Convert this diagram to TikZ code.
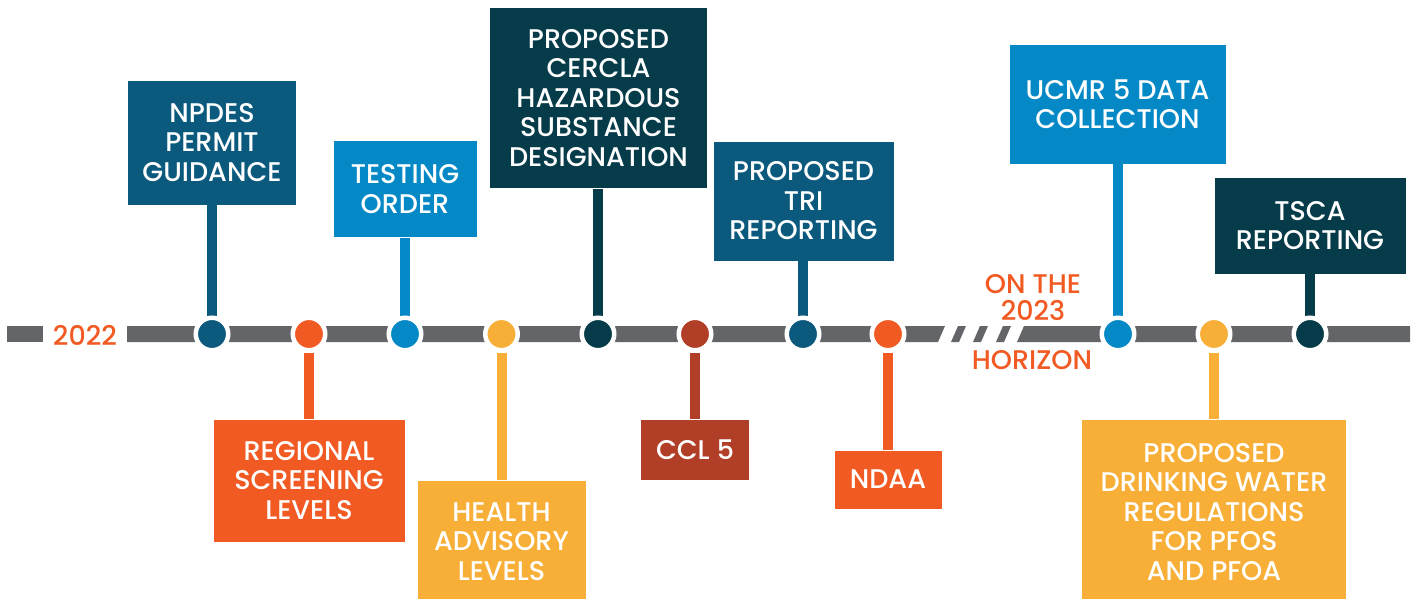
\documentclass[tikz,border=0pt]{standalone}
\usepackage{fontspec}
\setmainfont{Poppins}[UprightFont=* Medium]
\usetikzlibrary{calc}

\definecolor{tlnavy}{HTML}{0B5A7E}
\definecolor{tlsky}{HTML}{0489C6}
\definecolor{tldeep}{HTML}{063B49}
\definecolor{tlorange}{HTML}{F15A22}
\definecolor{tlamber}{HTML}{F8AF38}
\definecolor{tlrust}{HTML}{B13E27}
\definecolor{tlgray}{HTML}{636569}

\newcommand{\evfont}{\fontsize{27}{29.5}\selectfont}

\tikzset{
    event/.style =  {rectangle,
                    draw=white,
                    line width=0.8,
                    text=white,
                    align=center,
                    inner sep=0pt,
                    font=\evfont},
    dot/.style =    {circle,
                    draw=white,
                    line width=4.5,
                    inner sep=0pt,
                    minimum size=32.5},
    stem/.style =   {line width=10},
    track/.style =  {fill=tlgray},
    tag/.style =    {text=tlorange,
                    align=center,
                    font=\fontsize{27}{27}\selectfont}
}

\begin{document}
\begin{tikzpicture}[x=1pt,y=-1pt]
            \useasboundingbox (0,0) rectangle (1414,599);
            \clip (0,0) rectangle (1414,599);

            % events above and below the track
            \node[event, fill=tlnavy,   minimum width=169, minimum height=125] (npdes)  at (212,142.5)    {NPDES\\PERMIT\\GUIDANCE};
            \node[event, fill=tlorange, minimum width=192, minimum height=123] (rsl)    at (309,480.5)    {REGIONAL\\SCREENING\\LEVELS};
            \node[event, fill=tlsky,    minimum width=144, minimum height=97]  (testing) at (405,189)     {TESTING\\ORDER};
            \node[event, fill=tlamber,  minimum width=169, minimum height=123] (health) at (501.5,541.5)   {HEALTH\\ADVISORY\\LEVELS};
            \node[event, fill=tldeep,   minimum width=218, minimum height=181] (cercla) at (598.5,98)     {PROPOSED\\CERCLA\\HAZARDOUS\\SUBSTANCE\\DESIGNATION};
            \node[event, fill=tlrust,   minimum width=109, minimum height=61]  (ccl)    at (695,449.5)    {CCL 5};
            \node[event, fill=tlnavy,   minimum width=181, minimum height=120] (tri)    at (803.5,201)    {PROPOSED\\TRI\\REPORTING};
            \node[event, fill=tlorange, minimum width=108, minimum height=59]  (ndaa)   at (888,479.5)    {NDAA};
            \node[event, fill=tlsky,    minimum width=217, minimum height=120] (ucmr)   at (1117.5,104)   {UCMR 5 DATA\\COLLECTION};
            \node[event, fill=tlamber,  minimum width=265, minimum height=186] (water)  at (1214,512)     {PROPOSED\\DRINKING WATER\\REGULATIONS\\FOR PFOS\\AND PFOA};
            \node[event, fill=tldeep,   minimum width=192, minimum height=97]  (tsca)   at (1310,225.5)   {TSCA\\REPORTING};

            \node[dot] (d1)  at (212,334)   {};
            \node[dot] (d2)  at (309,334)   {};
            \node[dot] (d3)  at (405,334)   {};
            \node[dot] (d4)  at (501.5,334) {};
            \node[dot] (d5)  at (598,334)   {};
            \node[dot] (d6)  at (695,334)   {};
            \node[dot] (d7)  at (803,334)   {};
            \node[dot] (d8)  at (888,334)   {};
            \node[dot] (d9)  at (1118,334)  {};
            \node[dot] (d10) at (1214,334)  {};
            \node[dot] (d11) at (1310,334)  {};

            % the track, broken before 2023
            \node[tag, inner sep=10pt] (y2022) at (85,335) {2022};
            \fill[track] (7,326) rectangle (y2022.west |- 0,342);
            \fill[track] (y2022.east |- 0,326) -- (945,326) -- (938,342) -- (y2022.east |- 0,342) -- cycle;
            \fill[track] (951,342) -- (958,326) -- (966,326) -- (959,342) -- cycle;
            \fill[track] (973,342) -- (980,326) -- (988,326) -- (981,342) -- cycle;
            \fill[track] (996,342) -- (1003,326) -- (1011,326) -- (1004,342) -- cycle;
            \fill[track] (1017,342) -- (1024,326) -- (1410,326) -- (1410,342) -- cycle;
            \node[tag] (onthe)   at (1033,298) {ON THE\\2023};
            \node[tag] (horizon) at (1032,360) {HORIZON};

            \draw[stem, tlnavy]   (npdes)   -- (d1);
            \draw[stem, tlorange] (rsl)     -- (d2);
            \draw[stem, tlsky]    (testing) -- (d3);
            \draw[stem, tlamber]  (health)  -- (d4);
            \draw[stem, tldeep]   (cercla.south -| d5)  -- (d5);
            \draw[stem, tlrust]   (ccl)     -- (d6);
            \draw[stem, tlnavy]   (tri.south -| d7)     -- (d7);
            \draw[stem, tlorange] (ndaa)    -- (d8);
            \draw[stem, tlsky]    (ucmr.south -| d9)    -- (d9);
            \draw[stem, tlamber]  (water)   -- (d10);
            \draw[stem, tldeep]   (tsca)    -- (d11);

            \node[dot, fill=tlnavy]   (d1)  at (212,334)   {};
            \node[dot, fill=tlorange] (d2)  at (309,334)   {};
            \node[dot, fill=tlsky]    (d3)  at (405,334)   {};
            \node[dot, fill=tlamber]  (d4)  at (501.5,334) {};
            \node[dot, fill=tldeep]   (d5)  at (598,334)   {};
            \node[dot, fill=tlrust]   (d6)  at (695,334)   {};
            \node[dot, fill=tlnavy]   (d7)  at (803,334)   {};
            \node[dot, fill=tlorange] (d8)  at (888,334)   {};
            \node[dot, fill=tlsky]    (d9)  at (1118,334)  {};
            \node[dot, fill=tlamber]  (d10) at (1214,334)  {};
            \node[dot, fill=tldeep]   (d11) at (1310,334)  {};
        \end{tikzpicture}
\end{document}
